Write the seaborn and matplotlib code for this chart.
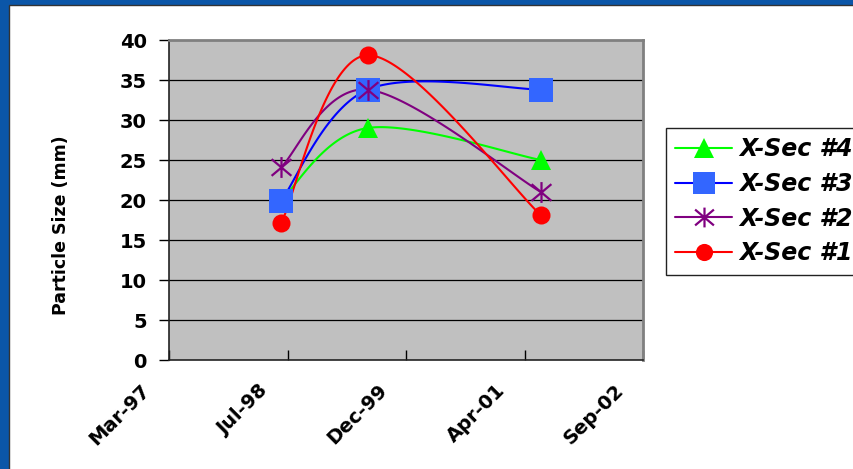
import numpy as np
import pandas as pd
import matplotlib
matplotlib.use("Agg")
import matplotlib.pyplot as plt
import matplotlib.dates as mdates
import matplotlib.transforms as mtransforms
from matplotlib.path import Path
from matplotlib.lines import Line2D
from matplotlib.patches import Rectangle
import seaborn as sns

# ---- data ----
dates = ["1998-07-01", "1999-07-01", "2001-07-01"]
series_names = ["X-Sec #1", "X-Sec #2", "X-Sec #3", "X-Sec #4"]
xsec1 = [17.1, 38.1, 18.1]
xsec2 = [24.1, 33.8, 21.0]
xsec3 = [19.9, 33.8, 33.8]
xsec4 = [20.0, 29.0, 25.0]
y_ticks = [0, 5, 10, 15, 20, 25, 30, 35, 40]
x_start = "1997-03-15"
x_step_days = 500
n_x_ticks = 5

sns.set_theme(style="white")
plt.rcParams["font.family"] = ["DejaVu Sans"]
plt.rcParams.update({"text.color": "black", "axes.labelcolor": "black",
                     "xtick.color": "black", "ytick.color": "black"})

fig = plt.figure(figsize=(8.54, 4.69), dpi=100)
W, H = 854, 469
fig.patch.set_facecolor("#0B56A8")
# white panel inside blue frame
fig.patches.append(Rectangle((9 / W, -0.01), 1, 1.01 - 5 / H, transform=fig.transFigure,
                             facecolor="white", edgecolor="#333333", lw=1.0, zorder=-5))

ax = fig.add_axes([169 / W, 1 - 360 / H, (643 - 169) / W, (360 - 40) / H])
ax.set_zorder(2)
ax.set_facecolor("#C0C0C0")

xnum = mdates.date2num(pd.to_datetime(dates))
x0 = mdates.date2num(pd.Timestamp(x_start))
xticks = [x0 + i * x_step_days for i in range(n_x_ticks)]


def smooth(xs, ys, n=60):
    xs = np.asarray(xs, float)
    ys = np.asarray(ys, float)
    P = np.column_stack([xs, ys])
    out = []
    m = len(P)
    for i in range(m - 1):
        p0 = P[i - 1] if i > 0 else P[i]
        p1 = P[i]
        p2 = P[i + 1]
        p3 = P[i + 2] if i + 2 < m else P[i + 1]
        c1 = p1 + (p2 - p0) / 6.0
        c2 = p2 - (p3 - p1) / 6.0
        t = np.linspace(0, 1, n)[:, None]
        seg = ((1 - t) ** 3) * p1 + 3 * ((1 - t) ** 2) * t * c1 + 3 * (1 - t) * t ** 2 * c2 + t ** 3 * p2
        out.append(seg if i == 0 else seg[1:])
    arr = np.vstack(out)
    return arr[:, 0], arr[:, 1]


star = Path([(0, -1), (0, 1), (-0.95, -0.8), (0.95, 0.8), (-0.95, 0.8), (0.95, -0.8)],
            [Path.MOVETO, Path.LINETO, Path.MOVETO, Path.LINETO, Path.MOVETO, Path.LINETO])

styles = {
    "X-Sec #4": dict(values=xsec4, line="#00FF00", marker="^", mfc="#00FF00", mec="#00FF00", ms=15, mew=0),
    "X-Sec #3": dict(values=xsec3, line="#0000FF", marker="s", mfc="#3366FF", mec="#3366FF", ms=17, mew=0),
    "X-Sec #2": dict(values=xsec2, line="#800080", marker=star, mfc="none", mec="#800080", ms=15, mew=1.6),
    "X-Sec #1": dict(values=xsec1, line="#FF0000", marker="o", mfc="#FF0000", mec="#FF0000", ms=13, mew=0),
}

# gridlines
for yv in y_ticks[1:-1]:
    ax.axhline(yv, color="black", lw=0.9, zorder=1)

# smoothed lines
for name in ["X-Sec #4", "X-Sec #3", "X-Sec #2", "X-Sec #1"]:
    st = styles[name]
    sx, sy = smooth(xnum, st["values"])
    sns.lineplot(x=sx, y=sy, ax=ax, color=st["line"], lw=1.5, sort=False, zorder=3, legend=False)

# markers
for name in ["X-Sec #1", "X-Sec #4", "X-Sec #3", "X-Sec #2"]:
    st = styles[name]
    ax.plot(xnum, st["values"], linestyle="none", marker=st["marker"], ms=st["ms"],
            mfc=st["mfc"], mec=st["mec"], mew=st["mew"], zorder=4)

ax.set_xlim(xticks[0], xticks[-1])
ax.set_ylim(0, 40)
ax.set_yticks(y_ticks)
ax.set_yticklabels([str(v) for v in y_ticks], fontsize=14, fontweight="bold")
ax.set_xticks(xticks)
ax.set_xticklabels([mdates.num2date(v).strftime("%b-%y") for v in xticks],
                   fontsize=14, fontweight="bold",
                   rotation=45, ha="right", rotation_mode="anchor")
ax.tick_params(axis="y", direction="out", length=7, width=1, color="black", pad=9, left=True)
ax.tick_params(axis="x", direction="in", length=7, width=1, color="black", pad=10, bottom=True)
shift = mtransforms.ScaledTranslation(-0.29, -0.07, fig.dpi_scale_trans)
for lab in ax.get_xticklabels():
    lab.set_transform(lab.get_transform() + shift)

for s in ["left", "bottom"]:
    ax.spines[s].set_color("#222222")
    ax.spines[s].set_linewidth(1.2)
for s in ["top", "right"]:
    ax.spines[s].set_color("#808080")
    ax.spines[s].set_linewidth(2)

ax.set_ylabel("Particle Size (mm)", fontsize=12.5, fontweight="bold", color="black")
ax.yaxis.set_label_coords(-0.209, 0.42)

handles = []
for name in ["X-Sec #4", "X-Sec #3", "X-Sec #2", "X-Sec #1"]:
    st = styles[name]
    handles.append(Line2D([0], [0], color=st["line"], lw=1.5, marker=st["marker"],
                          ms=st["ms"] * 0.95, mfc=st["mfc"], mec=st["mec"], mew=st["mew"]))
leg = fig.legend(handles, ["X-Sec #4", "X-Sec #3", "X-Sec #2", "X-Sec #1"],
                 loc="upper left", bbox_to_anchor=(666 / W, 1 - 128 / H),
                 frameon=True, fancybox=False, shadow=False, framealpha=1,
                 prop=dict(size=17, weight="bold", style="italic"),
                 handlelength=2.4, handletextpad=0.3, labelspacing=0.45,
                 borderpad=0.4, borderaxespad=0)
leg.get_frame().set_edgecolor("#222222")
leg.get_frame().set_linewidth(1.0)
for t in leg.get_texts():
    t.set_color("black")

fig.savefig("out.png", dpi=100, facecolor=fig.get_facecolor())
